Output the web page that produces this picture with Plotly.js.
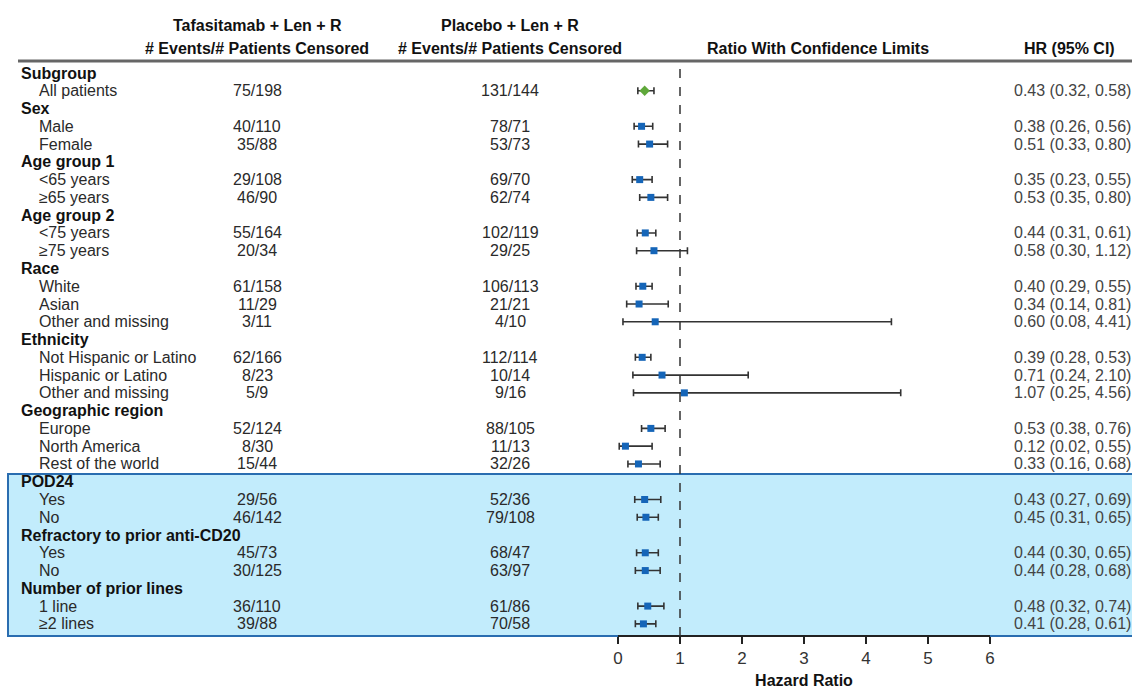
<!DOCTYPE html>
<html>
<head>
<meta charset="utf-8">
<script src="https://cdn.plot.ly/plotly-3.0.1.min.js"></script>
<style>html,body{margin:0;padding:0;background:#fff;}#chart{width:1132px;height:689px;}</style>
</head>
<body>
<div id="chart"></div>
<script>
// ---- data ----
var labels = ["Subgroup","All patients","Sex","Male","Female","Age group 1","<65 years","\u226565 years",
  "Age group 2","<75 years","\u226575 years","Race","White","Asian","Other and missing","Ethnicity",
  "Not Hispanic or Latino","Hispanic or Latino","Other and missing","Geographic region","Europe",
  "North America","Rest of the world","POD24","Yes","No","Refractory to prior anti-CD20","Yes","No",
  "Number of prior lines","1 line","\u22652 lines"];
var isHeader = [1,0,1,0,0,1,0,0,1,0,0,1,0,0,0,1,0,0,0,1,0,0,0,1,0,0,1,0,0,1,0,0];
var tafa = [null,"75/198",null,"40/110","35/88",null,"29/108","46/90",null,"55/164","20/34",null,"61/158","11/29","3/11",null,
  "62/166","8/23","5/9",null,"52/124","8/30","15/44",null,"29/56","46/142",null,"45/73","30/125",null,"36/110","39/88"];
var placebo = [null,"131/144",null,"78/71","53/73",null,"69/70","62/74",null,"102/119","29/25",null,"106/113","21/21","4/10",null,
  "112/114","10/14","9/16",null,"88/105","11/13","32/26",null,"52/36","79/108",null,"68/47","63/97",null,"61/86","70/58"];
var hr = [null,0.43,null,0.38,0.51,null,0.35,0.53,null,0.44,0.58,null,0.40,0.34,0.60,null,0.39,0.71,1.07,null,0.53,0.12,0.33,null,0.43,0.45,null,0.44,0.44,null,0.48,0.41];
var lo = [null,0.32,null,0.26,0.33,null,0.23,0.35,null,0.31,0.30,null,0.29,0.14,0.08,null,0.28,0.24,0.25,null,0.38,0.02,0.16,null,0.27,0.31,null,0.30,0.28,null,0.32,0.28];
var hi = [null,0.58,null,0.56,0.80,null,0.55,0.80,null,0.61,1.12,null,0.55,0.81,4.41,null,0.53,2.10,4.56,null,0.76,0.55,0.68,null,0.69,0.65,null,0.65,0.68,null,0.74,0.61];
var xTicks = [0,1,2,3,4,5,6];
var headTafa = ["Tafasitamab + Len + R", "# Events/# Patients Censored"];
var headPlac = ["Placebo + Len + R", "# Events/# Patients Censored"];
var headRatio = "Ratio With Confidence Limits";
var headHR = "HR (95% CI)";

// ---- build ----
var W = 1132, H = 689;
var FONT = '"Liberation Sans", Arial, sans-serif';
var rowTop = 73, rowStep = 17.77;
var yTop = -rowTop / rowStep, yBot = (H - rowTop) / rowStep;
function px(x){ return x / W; }

var allIdx = [], subIdx = [];
for (var i = 0; i < labels.length; i++) {
  if (hr[i] === null) continue;
  if (labels[i] === "All patients") allIdx.push(i); else subIdx.push(i);
}
function mk(idx, color, symbol, size){
  return {
    type: 'scatter', mode: 'markers',
    x: idx.map(function(i){return hr[i];}),
    y: idx,
    marker: {color: color, symbol: symbol, size: size},
    error_x: {type: 'data', symmetric: false,
      array: idx.map(function(i){return hi[i]-hr[i];}),
      arrayminus: idx.map(function(i){return hr[i]-lo[i];}),
      color: '#333', thickness: 1.6, width: 3.5},
    hoverinfo: 'skip', showlegend: false
  };
}
var traces = [mk(subIdx, '#1565b8', 'square', 7), mk(allIdx, '#5fa83a', 'diamond', 8)];

var ann = [];
var SZ = 16;
var rowFont = {family: FONT, size: SZ, color: '#2a2a2a'};
var boldFont = {family: FONT, size: SZ, color: '#111', weight: 'bold'};
for (var j = 0; j < labels.length; j++) {
  ann.push({xref:'paper', yref:'y', x: px(isHeader[j] ? 19 : 37), y: j, xanchor:'left', yanchor:'middle',
    text: isHeader[j] ? '<b>'+labels[j]+'</b>' : labels[j], showarrow:false, font: isHeader[j]?boldFont:rowFont});
  if (tafa[j] !== null) {
    ann.push({xref:'paper', yref:'y', x: px(257), y: j, xanchor:'center', yanchor:'middle', text: tafa[j], showarrow:false, font: rowFont});
    ann.push({xref:'paper', yref:'y', x: px(510), y: j, xanchor:'center', yanchor:'middle', text: placebo[j], showarrow:false, font: rowFont});
  }
  if (hr[j] !== null) {
    ann.push({xref:'paper', yref:'y', x: px(1012), y: j, xanchor:'left', yanchor:'middle',
      text: hr[j].toFixed(2)+' ('+lo[j].toFixed(2)+', '+hi[j].toFixed(2)+')', showarrow:false,
      font: {family: FONT, size: SZ, color: '#444'}});
  }
}
var hFont = {family: FONT, size: SZ, color: '#111'};
function head(t, x, y, anchor){
  ann.push({xref:'paper', yref:'paper', x: px(x), y: 1-y/H, xanchor:anchor, yanchor:'middle',
    text:'<b>'+t+'</b>', showarrow:false, font:hFont});
}
head(headTafa[0], 257, 26, 'center');
head(headTafa[1], 257, 48, 'center');
head(headPlac[0], 510, 26, 'center');
head(headPlac[1], 510, 48, 'center');
head(headRatio, 818, 48, 'center');
head(headHR, 1117, 48, 'right');

var shapes = [
  {type:'rect', xref:'paper', yref:'paper', x0: px(8), x1: 1.01, y0: 1-636/H, y1: 1-474/H,
   fillcolor:'#c2ecfc', line:{color:'#2a6db0', width:2}, layer:'below'},
  {type:'line', xref:'paper', yref:'paper', x0: px(18), x1: 1, y0: 1-61/H, y1: 1-61/H,
   line:{color:'#666', width:3}},
  {type:'line', xref:'x', yref:'paper', x0: 1, x1: 1, y0: 1-636/H, y1: 1-66/H,
   line:{color:'#333', width:1.5, dash:'dash'}, layer:'above'}
];

var layout = {
  width: W, height: H, margin: {l:0, r:0, t:0, b:0},
  paper_bgcolor: '#fff', plot_bgcolor: 'rgba(0,0,0,0)',
  showlegend: false,
  xaxis: {domain: [618/W, 990/W], range: [0, 6], anchor: 'free', position: 53/H,
    showline: true, linecolor: '#222', linewidth: 2, ticks: 'outside', ticklen: 7, tickwidth: 2, tickcolor: '#222',
    tickvals: xTicks, ticktext: xTicks.map(String), showgrid: false, zeroline: false,
    tickfont: {family: FONT, size: 17, color: '#333'},
    title: {text: '<b>Hazard Ratio</b>', standoff: 14, font: {family: FONT, size: 16, color: '#111'}}},
  yaxis: {domain: [0,1], range: [yBot, yTop], visible: false, showgrid: false, zeroline: false},
  annotations: ann, shapes: shapes
};
Plotly.newPlot('chart', traces, layout, {staticPlot: true, displayModeBar: false});
</script>
</body>
</html>
